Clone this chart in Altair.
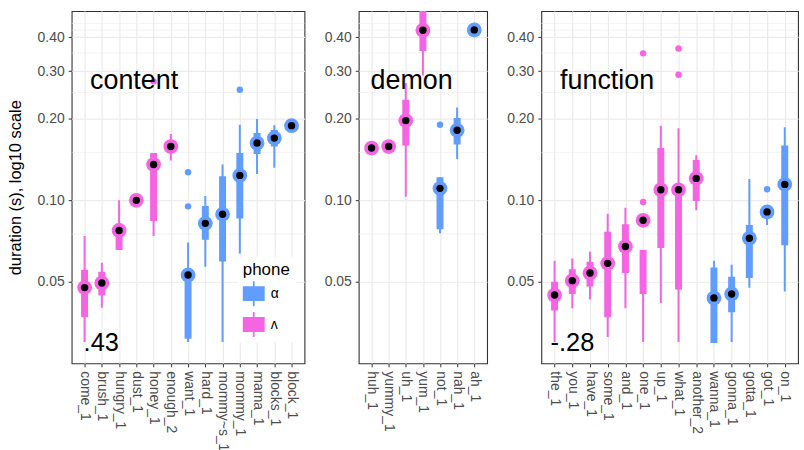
import altair as alt
import pandas as pd

BLUE = "#619CFF"
PINK = "#F564E3"
PHONES = ["α", "ʌ"]
Y_TICKS = [0.05, 0.10, 0.20, 0.30, 0.40]
Y_MINOR = [0.075, 0.15, 0.25, 0.35, 0.425, 0.45]
Y_DOMAIN = [0.025, 0.5]

# ---- content words ----
content_words = ["come_1", "brush_1", "hungry_1", "dust_1", "honey_1", "enough_2", "want_1",
                 "hard_1", "mommy~s_1", "mommy_1", "mama_1", "blocks_1", "block_1"]
content_phone = ["ʌ"] * 6 + ["α"] * 7
content_mean = [0.0476, 0.0495, 0.0774, 0.100, 0.1356, 0.158, 0.053, 0.0822, 0.0888, 0.1236, 0.1628, 0.1698, 0.1887]
content_low = [0.030, 0.0401, 0.0655, None, 0.0739, 0.1403, 0.030, 0.0568, 0.030, 0.0636, 0.1252, 0.1318, None]
content_q1 = [0.037, 0.0445, 0.0655, None, 0.0839, 0.150, 0.0308, 0.0715, 0.0595, 0.0856, 0.1483, 0.158, None]
content_q3 = [0.0554, 0.0545, 0.082, None, 0.1496, 0.165, 0.051, 0.0953, 0.1228, 0.1496, 0.1772, 0.182, None]
content_high = [0.0739, 0.0588, 0.100, None, 0.1496, 0.1758, 0.0698, 0.1037, 0.1356, 0.1903, 0.1995, 0.1892, None]
content_out_words = ["honey_1", "want_1", "want_1", "mommy_1"]
content_out_vals = [0.275, 0.127, 0.095, 0.256]

# ---- demon words ----
demon_words = ["huh_1", "yummy_1", "uh_1", "yum_1", "not_1", "nah_1", "ah_1"]
demon_phone = ["ʌ"] * 4 + ["α"] * 3
demon_mean = [0.156, 0.158, 0.197, 0.425, 0.1107, 0.1814, 0.426]
demon_low = [None, None, 0.103, 0.289, 0.0755, 0.1422, None]
demon_q1 = [None, None, 0.1593, 0.356, 0.0782, 0.1607, None]
demon_q3 = [None, None, 0.235, 0.56, 0.1218, 0.2013, None]
demon_high = [None, None, 0.271, 0.70, 0.1218, 0.2203, None]
demon_out_words = ["not_1"]
demon_out_vals = [0.1903]

# ---- function words ----
function_words = ["the_1", "you_1", "have_1", "some_1", "and_1", "one_1", "up_1", "what_1",
                  "another_2", "wanna_1", "gonna_1", "gotta_1", "got_1", "on_1"]
function_phone = ["ʌ"] * 9 + ["α"] * 5
function_mean = [0.0447, 0.0505, 0.0539, 0.0585, 0.0675, 0.0844, 0.1094, 0.1094, 0.1205, 0.0436, 0.0451, 0.0724, 0.0906, 0.1145]
function_low = [0.030, 0.0399, 0.043, 0.0313, 0.0399, 0.030, 0.0418, 0.030, 0.0919, 0.0297, 0.030, 0.0475, 0.0811, 0.0461]
function_q1 = [0.0392, 0.0451, 0.0481, 0.037, 0.0539, 0.0451, 0.0666, 0.0468, 0.0994, 0.0297, 0.0386, 0.0517, 0.087, 0.0683]
function_q3 = [0.050, 0.0557, 0.0593, 0.0765, 0.0816, 0.0655, 0.1561, 0.105, 0.141, 0.0565, 0.0522, 0.0811, 0.095, 0.1594]
function_high = [0.0598, 0.061, 0.0646, 0.0893, 0.0939, 0.0655, 0.1887, 0.1844, 0.1467, 0.0598, 0.0578, 0.120, 0.095, 0.186]
function_out_words = ["one_1", "one_1", "what_1", "what_1", "got_1"]
function_out_vals = [0.349, 0.0986, 0.364, 0.291, 0.1098]

# legend key: a wide box with a thin line running through it
LEGEND_SYMBOL = "M-1,-0.68H1V0.68H-1Z M-0.08,-1.14H0.08V1.14H-0.08Z"


def fill_scale():
    return alt.Scale(domain=PHONES, range=[BLUE, PINK])


def stroke_scale():
    # same mapping, listed in the other order so it never merges with the fill legend
    return alt.Scale(domain=PHONES[::-1], range=[PINK, BLUE])


def y_enc(field, title):
    return alt.Y(
        f"{field}:Q",
        scale=alt.Scale(type="log", domain=Y_DOMAIN, nice=False),
        axis=alt.Axis(values=Y_TICKS, format=".2f", title=title, grid=True),
    )


def panel(words, phones, mean, low, q1, q3, high, out_words, out_vals,
          name, name_dx, corr, corr_dx, width, first):
    df = pd.DataFrame({"word": words, "phone": phones, "mean": mean,
                       "low": low, "q1": q1, "q3": q3, "high": high})
    out = pd.DataFrame({"word": out_words, "value": out_vals,
                        "phone": [phones[words.index(w)] for w in out_words]})
    title = "duration (s), log10 scale" if first else None
    x = alt.X("word:N", sort=words,
              scale=alt.Scale(type="point", padding=0.75),
              axis=alt.Axis(title=None, labelAngle=90, grid=True))
    stroke = alt.Stroke("phone:N", scale=stroke_scale(), legend=None)
    if first:
        leg = alt.Legend(title="phone", orient="none", legendX=167, legendY=247,
                         symbolType=LEGEND_SYMBOL, symbolSize=484, symbolStrokeWidth=0,
                         symbolOpacity=1, fillColor="white", padding=5, rowPadding=5,
                         titleFontSize=17, titleFontWeight="normal", titleColor="black",
                         titlePadding=4, labelFontSize=14, labelColor="black", labelOffset=6)
    else:
        leg = None
    fill = alt.Fill("phone:N", scale=fill_scale(), legend=leg)

    minor = alt.Chart(pd.DataFrame({"v": Y_MINOR})).mark_rule(
        color="#EBEBEB", strokeWidth=0.6).encode(y=y_enc("v", title))

    base = alt.Chart(df)
    whisk = base.mark_rule(strokeWidth=2, clip=True).encode(
        x=x, y=y_enc("low", title), y2="high", stroke=stroke)
    box = base.mark_rule(strokeWidth=7, clip=True).encode(
        x=x, y=y_enc("q1", title), y2="q3", stroke=stroke)
    outl = alt.Chart(out).mark_circle(size=42, opacity=1, clip=True).encode(
        x=x, y=y_enc("value", title), fill=fill)
    means = base.mark_circle(size=220, opacity=1, clip=True).encode(
        x=x, y=y_enc("mean", title), fill=fill)
    dots = base.mark_circle(size=55, opacity=1, color="black", clip=True).encode(
        x=x, y=y_enc("mean", title))

    lab = pd.DataFrame({"word": [words[0]], "value": [0.275], "text": [name]})
    name_txt = alt.Chart(lab).mark_text(
        align="left", baseline="middle", fontSize=27, dx=name_dx, color="black").encode(
        x=x, y=y_enc("value", title), text="text:N")
    layers = [minor, whisk, box, outl, means, dots, name_txt]
    if corr:
        clab = pd.DataFrame({"word": [words[0]], "value": [0.0298], "text": [corr]})
        layers.append(alt.Chart(clab).mark_text(
            align="left", baseline="middle", fontSize=25.5, dx=corr_dx, color="black").encode(
            x=x, y=y_enc("value", title), text="text:N"))
    return alt.layer(*layers).properties(width=width, height=354)


p1 = panel(content_words, content_phone, content_mean, content_low, content_q1, content_q3,
           content_high, content_out_words, content_out_vals, "content", 5.5, ".43", -1, 234, True)
p2 = panel(demon_words, demon_phone, demon_mean, demon_low, demon_q1, demon_q3,
           demon_high, demon_out_words, demon_out_vals, "demon", -1, None, 0, 129, False)
p3 = panel(function_words, function_phone, function_mean, function_low, function_q1, function_q3,
           function_high, function_out_words, function_out_vals, "function", 5.5, "-.28", -4, 258, False)

chart = alt.hconcat(p1, p2, p3, spacing=17.5).resolve_scale(
    x="independent", y="independent", fill="independent", stroke="independent"
).properties(
    padding={"left": 6, "top": 9, "right": 5, "bottom": 5}
).configure(
    font="Liberation Sans"
).configure_view(
    stroke="#333333", strokeWidth=1.1
).configure_axis(
    labelFontSize=14, labelColor="#4D4D4D", tickColor="#333333", tickSize=3.5,
    domain=False, gridColor="#EBEBEB", gridWidth=1.2, labelPadding=4,
    titleFontSize=16.5, titleFontWeight="normal", titleColor="black", titlePadding=14
)

chart.save("out.html", embed_options={"renderer": "svg", "actions": False})
